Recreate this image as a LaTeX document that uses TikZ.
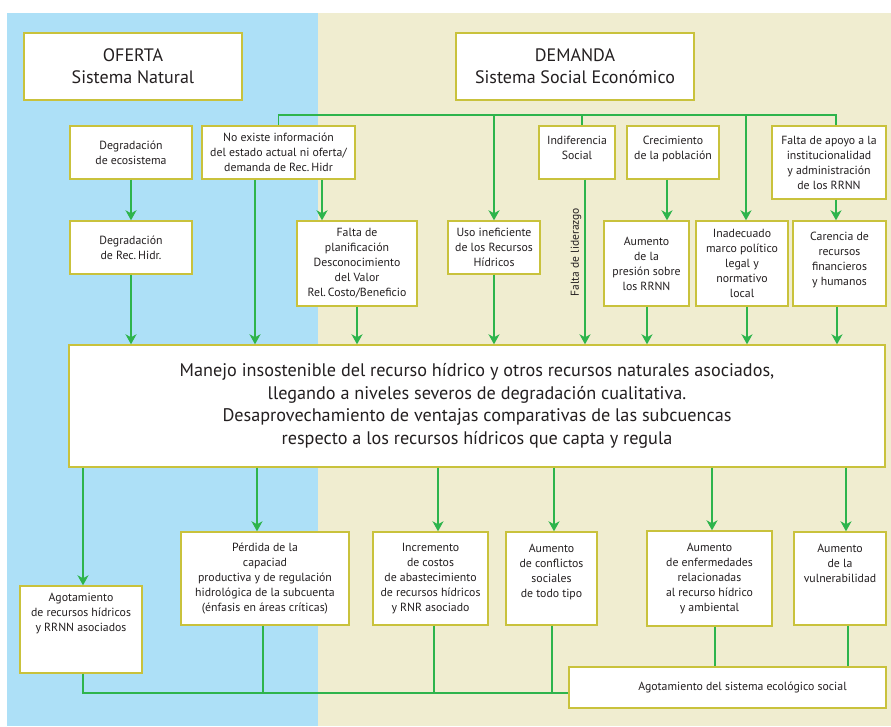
\documentclass[tikz,border=0pt]{standalone}
\usepackage{fontspec}
\setmainfont{PT Sans}
\usetikzlibrary{arrows.meta,positioning,calc}

\definecolor{ofertablue}{RGB}{173,224,247}
\definecolor{demandabeige}{RGB}{240,237,208}
\definecolor{boxline}{RGB}{201,194,60}
\definecolor{linkgreen}{RGB}{46,180,76}
\definecolor{textgray}{RGB}{35,31,32}

\tikzset{
  box/.style={draw=boxline, line width=1.4pt, fill=white, align=center,
              inner sep=2pt, text=textgray, font=\fontsize{11.8}{15}\selectfont},
  titlebox/.style={box, font=\fontsize{18}{22}\selectfont},
  link/.style={draw=linkgreen, line width=1.6pt},
  arrow/.style={link, -{Stealth[length=10pt,width=11pt,inset=3pt]}}
}

\begin{document}
\begin{tikzpicture}[x=1pt, y=-1pt]
  \useasboundingbox (0,0) rectangle (891,726);
  % fondos
  \fill[white] (0,0) rectangle (891,726);
  \fill[ofertablue] (7,13) rectangle (318,726);
  \fill[demandabeige] (318,13) rectangle (891,726);

  % titulos
  \node[titlebox, minimum width=218pt, minimum height=67pt] (oferta) at (133,66.5)
       {OFERTA\\Sistema Natural};
  \node[titlebox, minimum width=238pt, minimum height=67pt] (demanda) at (575,66.5)
       {DEMANDA\\Sistema Social Económico};

  % causas, primera fila
  \node[box, minimum width=122pt, minimum height=53pt] (ecosis) at (131,152.5)
       {Degradación\\de ecosistema};
  \node[box, minimum width=153pt, minimum height=53pt] (noinfo) at (278.5,152.5)
       {No existe información\\del estado actual ni oferta/\\demanda de Rec.\,Hidr};
  \node[box, minimum width=76pt, minimum height=53pt] (indif) at (577,152.5)
       {Indiferencia\\Social\\[-5pt]};
  \node[box, minimum width=92pt, minimum height=53pt] (crec) at (673,152.5)
       {Crecimiento\\de la población\\[-5pt]};
  \node[box, minimum width=114pt, minimum height=73pt] (apoyo) at (829,162.5)
       {Falta de apoyo a la\\institucionalidad\\y administración\\de los RRNN};

  % causas, segunda fila
  \node[box, minimum width=122pt, minimum height=53pt] (rechidr) at (131,247.5)
       {Degradación\\de Rec.\,Hidr.};
  \node[box, minimum width=120pt, minimum height=85pt] (planif) at (357,263.5)
       {Falta de\\planificación\\Desconocimiento\\del Valor\\Rel.\,Costo/Beneficio};
  \node[box, minimum width=92pt, minimum height=53pt] (uso) at (494,247.5)
       {Uso ineficiente\\de los Recursos\\Hídricos};
  \node[box, minimum width=85pt, minimum height=85pt] (presion) at (646.5,263.5)
       {Aumento\\de la\\presión sobre\\los RRNN};
  \node[box, minimum width=92pt, minimum height=85pt] (marco) at (742,263.5)
       {Inadecuado\\marco político\\legal y\\normativo\\local};
  \node[box, minimum width=93pt, minimum height=85pt] (carencia) at (839.5,263.5)
       {Carencia de\\recursos\\financieros\\y humanos\\[-5pt]};
  \node[rotate=90, text=textgray, font=\fontsize{11.5}{13}\selectfont] (lider) at (576,252)
       {Falta de liderazgo};

  % problema central
  \node[box, minimum width=816pt, minimum height=122pt,
        font=\fontsize{18.2}{22.5}\selectfont] (manejo) at (477,406)
       {Manejo insostenible del recurso hídrico y otros recursos naturales asociados,\\
        llegando a niveles severos de degradación cualitativa.\\
        Desaprovechamiento de ventajas comparativas de las subcuencas\\
        respecto a los recursos hídricos que capta y regula};

  % efectos
  \node[box, minimum width=122pt, minimum height=87pt] (agot) at (81,629.5)
       {Agotamiento\\de recursos hídricos\\y RRNN asociados\\[19pt]};
  \node[box, minimum width=168pt, minimum height=93pt] (perdida) at (265,578.5)
       {Pérdida de la\\capaciad\\productiva y de regulación\\hidrológica de la subcuenta\\(énfasis en áreas críticas)};
  \node[box, minimum width=115pt, minimum height=93pt] (incr) at (430.5,578.5)
       {Incremento\\de costos\\de abastecimiento\\de recursos hídricos\\y RNR asociado};
  \node[box, minimum width=91pt, minimum height=93pt] (confl) at (551.5,578.5)
       {Aumento\\de conflictos\\sociales\\de todo tipo\\[1pt]};
  \node[box, minimum width=125pt, minimum height=95pt] (enferm) at (709.5,578.5)
       {Aumento\\de enfermedades\\relacionadas\\al recurso hídrico\\y ambiental};
  \node[box, minimum width=92pt, minimum height=93pt] (vulner) at (840,578.5)
       {Aumento\\de la\\vulnerabilidad\\[16pt]};
  \node[box, minimum width=317pt, minimum height=41pt] (ecosoc) at (727.5,687.5)
       {\hspace*{30pt}Agotamiento del sistema ecológico social};

  % barra superior de la demanda
  \coordinate (busR) at ([xshift=7pt]apoyo.north |- 0,115);
  \draw[link] (noinfo.north) |- (busR) -- ([xshift=7pt]apoyo.north);
  \draw[link] ([xshift=5pt]indif.north |- busR) -- ([xshift=5pt]indif.north);
  \draw[arrow] (uso.north |- busR) -- (uso.north);
  \draw[arrow] ([xshift=4pt]marco.north |- busR) -- ([xshift=4pt]marco.north);

  % flechas entre causas
  \draw[arrow] (ecosis.south) -- (rechidr.north);
  \draw[arrow] ([xshift=43.5pt]noinfo.south) -- ([xshift=43.5pt]noinfo.south |- planif.north);
  \draw[arrow] ([xshift=-6pt]crec.south) -- ([xshift=-6pt]crec.south |- presion.north);
  \draw[arrow] ([xshift=7pt]apoyo.south) -- ([xshift=7pt]apoyo.south |- carencia.north);

  % flechas hacia el problema central
  \draw[arrow] (rechidr.south) -- (rechidr.south |- manejo.north);
  \draw[arrow] ([xshift=-23.5pt]noinfo.south) -- ([xshift=-23.5pt]noinfo.south |- manejo.north);
  \draw[arrow] (planif.south) -- (planif.south |- manejo.north);
  \draw[arrow] (uso.south) -- (uso.south |- manejo.north);
  \draw[arrow] ([xshift=8pt]indif.south) -- ([xshift=8pt]indif.south |- manejo.north);
  \draw[arrow] ([xshift=0.5pt]presion.south) -- ([xshift=0.5pt]presion.south |- manejo.north);
  \draw[arrow] ([xshift=5pt]marco.south) -- ([xshift=5pt]marco.south |- manejo.north);
  \draw[arrow] ([xshift=-2.5pt]carencia.south) -- ([xshift=-2.5pt]carencia.south |- manejo.north);

  % flechas hacia los efectos
  \draw[arrow] ([xshift=2pt]agot.north |- manejo.south) -- ([xshift=2pt]agot.north);
  \draw[arrow] ([xshift=-8pt]perdida.north |- manejo.south) -- ([xshift=-8pt]perdida.north);
  \draw[arrow] ([xshift=7.5pt]incr.north |- manejo.south) -- ([xshift=7.5pt]incr.north);
  \draw[arrow] ([xshift=2.5pt]confl.north |- manejo.south) -- ([xshift=2.5pt]confl.north);
  \draw[arrow] ([xshift=2.5pt]enferm.north |- manejo.south) -- ([xshift=2.5pt]enferm.north);
  \draw[arrow] ([xshift=6pt]vulner.north |- manejo.south) -- ([xshift=6pt]vulner.north);

  % barra inferior
  \coordinate (busB) at ([xshift=2pt]agot.south |- 0,693);
  \draw[link] ([xshift=2pt]agot.south) -- (busB) -- (busB -| ecosoc.west);
  \draw[link] ([xshift=-2pt]perdida.south) -- ([xshift=-2pt]perdida.south |- busB);
  \draw[link] ([xshift=3.5pt]incr.south) -- ([xshift=3.5pt]incr.south |- busB);
  \draw[link] ([xshift=0.5pt]confl.south) -- ([xshift=0.5pt]confl.south |- busB);
  \draw[link] ([xshift=5.5pt]enferm.south) -- ([xshift=5.5pt]enferm.south |- ecosoc.north);
  \draw[link] ([xshift=8pt]vulner.south) -- ([xshift=8pt]vulner.south |- ecosoc.north);
\end{tikzpicture}
\end{document}
